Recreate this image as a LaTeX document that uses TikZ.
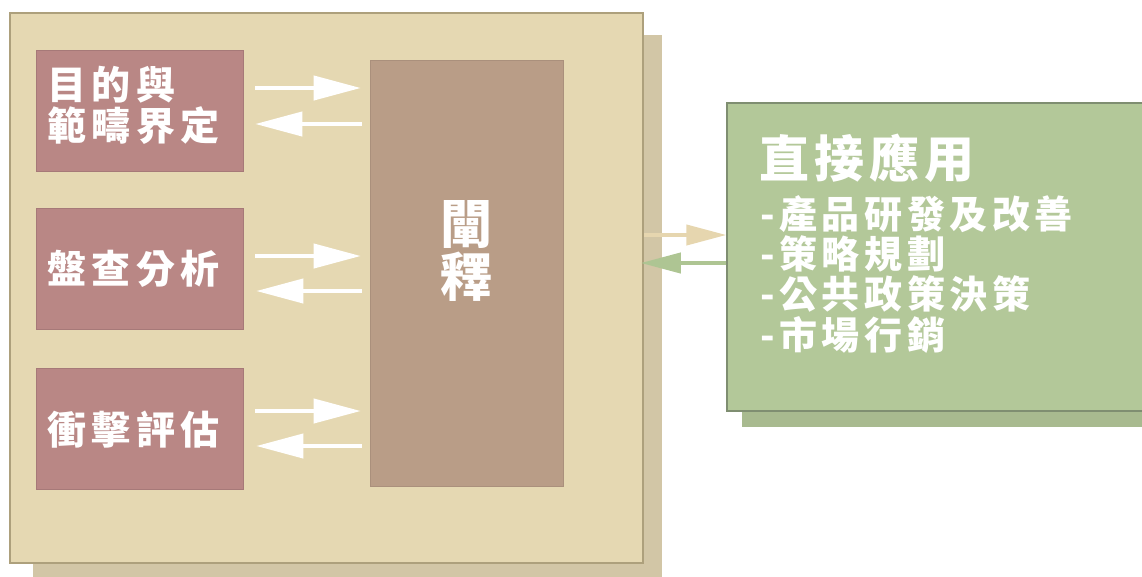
\documentclass[tikz,border=0pt]{standalone}
\usepackage{fontspec}
\usetikzlibrary{arrows.meta,calc}
\newfontfamily\cjk{Noto Sans CJK TC}
\definecolor{mainfill}{HTML}{E5D8B2}
\definecolor{mainline}{HTML}{ADA07C}
\definecolor{mainshadow}{HTML}{D2C6A6}
\definecolor{pinkfill}{HTML}{B98785}
\definecolor{centerfill}{HTML}{B99D87}
\definecolor{greenfill}{HTML}{B3C899}
\definecolor{greenline}{HTML}{7F8E71}
\definecolor{greenshadow}{HTML}{A8BA8F}
\definecolor{tanarrow}{HTML}{E6D6AF}
\definecolor{greenarrow}{HTML}{AEC593}
\tikzset{
  pinkbox/.style={fill=pinkfill, draw=pinkfill!90!black, line width=0.6pt, minimum width=207pt, minimum height=121pt, inner sep=0pt},
  wtext/.style={text=white, inner sep=0pt, anchor=base west},
  pinktext/.style={wtext, font=\cjk\bfseries\fontsize{39}{42}\selectfont\addfontfeatures{LetterSpace=14}},
  listtext/.style={wtext, font=\cjk\bfseries\fontsize{38}{40}\selectfont\addfontfeatures{LetterSpace=12}},
  centertext/.style={wtext, anchor=base, font=\cjk\bfseries\fontsize{52}{53}\selectfont},
  warrow/.style={draw=white, line width=4pt, -{Triangle[length=47pt,width=24pt]}},
  tarrow/.style={draw=tanarrow, line width=4pt, -{Triangle[length=40pt,width=20pt]}},
  garrow/.style={draw=greenarrow, line width=4pt, -{Triangle[length=40pt,width=20pt]}},
}
\begin{document}
\begin{tikzpicture}[x=1pt,y=-1pt]
\useasboundingbox (0,0) rectangle (1142,576);
% shadows
\fill[mainshadow] (33,35) rectangle (662,600);
\fill[greenshadow] (742,118) rectangle (1170,427);
% main frame
\node[fill=mainfill, draw=mainline, line width=1.5pt, minimum width=633pt, minimum height=550pt, inner sep=0pt] (main) at (326.5,288) {};
% green box
\node[fill=greenfill, draw=greenline, line width=1.2pt, minimum width=430pt, minimum height=308pt, inner sep=0pt] (app) at (942,257) {};
% pink boxes
\node[pinkbox] (p1) at (139.5,110.5) {};
\node[pinkbox] (p2) at (139.5,268.5) {};
\node[pinkbox] (p3) at (139.5,428.5) {};
% center box
\node[fill=centerfill, draw=centerfill!92!black, line width=0.6pt, minimum width=193pt, minimum height=426pt, inner sep=0pt] (c) at (466.5,273) {};
% texts
\node[pinktext] (t1a) at (47,99) {目的與};
\node[pinktext] (t1b) at (47,140) {範疇界定};
\node[pinktext] (t2) at (47,283) {盤查分析};
\node[pinktext] (t3) at (47,444) {衝擊評估};
\node[centertext] (tc1) at (466.5,243) {闡};
\node[centertext] (tc2) at (466.5,296) {釋};
\node[wtext, font=\cjk\bfseries\fontsize{50}{53}\selectfont\addfontfeatures{LetterSpace=10}] (tg) at (759,177) {直接應用};
\node[listtext] (l1) at (760,228) {-產品研發及改善};
\node[listtext] (l2) at (760,268) {-策略規劃};
\node[listtext] (l3) at (760,308) {-公共政策決策};
\node[listtext] (l4) at (760,349) {-市場行銷};
% white arrows
\draw[warrow] ($(p1.east)+(12,-22.5)$) -- ($(c.west |- p1.east)+(-9,-22.5)$);
\draw[warrow] ($(c.west |- p1.east)+(-8,13.5)$) -- ($(p1.east)+(12,13.5)$);
\draw[warrow] ($(p2.east)+(12,-12.5)$) -- ($(c.west |- p2.east)+(-9,-12.5)$);
\draw[warrow] ($(c.west |- p2.east)+(-8,22.5)$) -- ($(p2.east)+(13,22.5)$);
\draw[warrow] ($(p3.east)+(12,-17.5)$) -- ($(c.west |- p3.east)+(-9,-17.5)$);
\draw[warrow] ($(c.west |- p3.east)+(-8,17.5)$) -- ($(p3.east)+(13,17.5)$);
% between frame and application
\draw[tarrow] ($(main.east)+(0,-53)$) -- ($(app.west |- main.east)+(0,-53)$);
\draw[garrow] ($(app.west |- main.east)+(0,-25)$) -- ($(main.east)+(-3,-25)$);
\end{tikzpicture}
\end{document}
